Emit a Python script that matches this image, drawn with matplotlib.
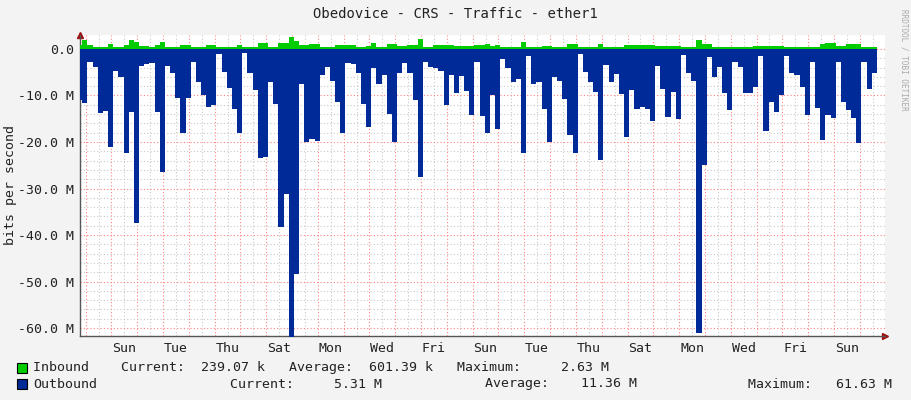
"""RRDtool-style traffic graph: Obedovice - CRS - ether1"""
import numpy as np
import matplotlib
matplotlib.use('Agg')
import matplotlib.pyplot as plt
from matplotlib.patches import Rectangle

# sample grid (days, step 0.2 day)
t_start = -0.331
t_step = 0.2

# outbound traffic, M bits/s (drawn negative)
outbound = [
    -11, -11.7, -2.9, -3.8, -13.8, -13.3, -21, -4.7, -6, -22.4,
    -13.5, -37.5, -3.6, -3.2, -3.1, -13.5, -26.4, -3.6, -5.1, -10.5,
    -18, -10.6, -2.9, -7.2, -9.9, -12.4, -12, -1.1, -4.9, -8.3,
    -12.8, -18, -0.9, -5.2, -8.8, -23.4, -23.2, -7, -11.8, -38.2,
    -31.2, -61.9, -48.4, -7.6, -19.9, -19.4, -19.8, -5.6, -3.8, -6.9,
    -11.3, -18.1, -3.1, -3.3, -5.1, -11.8, -16.7, -4.2, -7.6, -5.6,
    -14, -19.9, -5.2, -3.1, -5.2, -11, -27.5, -2.9, -3.8, -4.2,
    -4.7, -12, -5.6, -9.4, -5.8, -9, -14.2, -2.9, -14.4, -18.1,
    -9.9, -17.2, -2.2, -4, -7, -6.5, -22.3, -1.5, -7.6, -7,
    -12.9, -20.1, -6, -6.8, -10.8, -18.5, -22.3, -1.1, -4.9, -7,
    -9.2, -23.9, -3.4, -7, -5.4, -9.7, -18.9, -8.8, -12.9, -12.4,
    -12.9, -15.4, -3.6, -8.6, -14.6, -9.2, -15.1, -1.4, -5.2, -6.8,
    -61.1, -24.9, -1.7, -6, -3.8, -9.5, -13.1, -2.7, -3.8, -9.5,
    -9.5, -8.2, -1.6, -17.6, -11.3, -13.5, -9.8, -1.5, -5.1, -5.6,
    -8.1, -14.3, -2.8, -12.6, -19.6, -14.2, -14.8, -2.9, -11.3, -13.1,
    -14.8, -20.3, -2.9, -8.7, -5.2,
]

# inbound traffic, M bits/s
inbound = [
    0.9, 1.9, 0.9, 0.5, 0.5, 0.5, 1.0, 0.5, 0.5, 0.9,
    1.9, 1.4, 0.7, 0.7, 0.4, 0.9, 1.4, 0.4, 0.4, 0.4,
    0.9, 0.9, 0.4, 0.4, 0.4, 0.8, 0.8, 0.4, 0.4, 0.4,
    0.4, 0.9, 0.4, 0.4, 0.4, 1.2, 1.2, 0.5, 0.5, 1.2,
    1.2, 2.63, 1.8, 0.9, 0.9, 1.0, 1.0, 0.5, 0.5, 0.5,
    0.9, 0.9, 0.9, 0.9, 0.5, 0.5, 0.7, 1.2, 0.4, 0.4,
    1.0, 1.0, 0.65, 0.65, 0.9, 0.9, 2.2, 0.4, 0.4, 0.9,
    0.9, 0.9, 0.9, 0.6, 0.6, 0.6, 0.6, 0.9, 0.9, 1.1,
    0.65, 0.9, 0.4, 0.4, 0.4, 0.4, 1.4, 0.5, 0.5, 0.5,
    0.7, 0.7, 0.4, 0.4, 0.4, 1.1, 1.1, 0.5, 0.5, 0.5,
    0.5, 1.1, 0.5, 0.5, 0.5, 0.5, 0.9, 0.9, 0.9, 0.9,
    0.9, 0.9, 0.65, 0.65, 0.65, 0.65, 0.65, 0.5, 0.5, 0.5,
    1.9, 1.0, 1.0, 0.5, 0.5, 0.5, 0.5, 0.5, 0.5, 0.5,
    0.5, 0.65, 0.65, 0.65, 0.65, 0.65, 0.65, 0.5, 0.5, 0.5,
    0.5, 0.5, 0.5, 0.5, 1.0, 1.2, 1.2, 0.7, 0.7, 1.0,
    1.0, 1.0, 0.5, 0.5, 0.5,
]

day_labels = ['Sun', 'Tue', 'Thu', 'Sat', 'Mon', 'Wed', 'Fri', 'Sun',
              'Tue', 'Thu', 'Sat', 'Mon', 'Wed', 'Fri', 'Sun']
day_label_pos = np.arange(len(day_labels)) * 2 + 1.5

title = 'Obedovice - CRS - Traffic - ether1'
in_stats = ('Inbound    Current:  239.07 k   Average:  601.39 k   Maximum:     2.63 M')
out_stats = [('Outbound', 'Current:     5.31 M'), ('Average:    11.36 M'), ('Maximum:   61.63 M')]

mono = 'DejaVu Sans Mono'
plt.rcParams['font.family'] = mono

W, H = 911, 400
fig = plt.figure(figsize=(W / 100, H / 100), dpi=100, facecolor='#F3F3F3')
ax = fig.add_axes([80 / W, 1 - 336 / H, (885 - 80) / W, (336 - 35) / H])
ax.set_facecolor('white')

edges = t_start + t_step * np.arange(len(outbound) + 1)
out_y = np.append(outbound, outbound[-1])
in_y = np.append(inbound, inbound[-1])
ax.fill_between(edges, out_y, 0, step='post', color='#002A97', linewidth=0, zorder=3)
ax.fill_between(edges, in_y, 0, step='post', color='#00CC00', linewidth=0, zorder=3)

ax.set_xlim(-0.22, 30.98)
ax.set_ylim(-61.7, 3.0)

# grid
for d in np.arange(0, 31, 0.5):
    major = float(d).is_integer()
    ax.axvline(d, color='#FF8080' if major else '#C8C8C8', linestyle=(0, (1, 2)),
               linewidth=0.8, zorder=1)
for v in np.arange(-60, 1, 2):
    major = v % 10 == 0
    ax.axhline(v, color='#FF8080' if major else '#C8C8C8', linestyle=(0, (1, 2)),
               linewidth=0.8, zorder=1)

ax.set_yticks(np.arange(-60, 1, 10))
ax.set_yticklabels(['%.1f M' % v if v != 0 else '0.0' for v in np.arange(-60, 1, 10)],
                   fontsize=9.5, color='#222222')
ax.set_xticks(day_label_pos)
ax.set_xticklabels(day_labels, fontsize=9.5, color='#222222')
ax.tick_params(length=0, pad=4)
for s in ['top', 'right']:
    ax.spines[s].set_visible(False)
for s in ['left', 'bottom']:
    ax.spines[s].set_color('#555555')
    ax.spines[s].set_linewidth(1)
ax.plot(1, 0, '>', color='#A01010', markersize=4, transform=ax.transAxes, clip_on=False)
ax.plot(0, 1, '^', color='#A01010', markersize=4, transform=ax.transAxes, clip_on=False)

fig.text(455 / W, 1 - 14 / H, title, ha='center', va='center', fontsize=10, color='#222222')
fig.text(11 / W, 1 - 185 / H, 'bits per second', rotation=90, ha='center', va='center',
         fontsize=9.5, color='#222222')
fig.text(904 / W, 1 - 60 / H, 'RRDTOOL / TOBI OETIKER', rotation=270, ha='center', va='center',
         fontsize=5.5, color='#AAAAAA')

# legend
for y, col in [(368, '#00CC00'), (384, '#002A97')]:
    fig.patches.append(Rectangle((17 / W, 1 - (y + 5) / H), 10 / W, 10 / H,
                                 transform=fig.transFigure, facecolor=col,
                                 edgecolor='black', linewidth=0.8))
fig.text(33 / W, 1 - 368 / H, in_stats, va='center', fontsize=9.5, color='#222222')
fig.text(33 / W, 1 - 384 / H, out_stats[0][0], va='center', fontsize=9.5, color='#222222')
fig.text(230 / W, 1 - 384 / H, out_stats[0][1], va='center', fontsize=9.5, color='#222222')
fig.text(485 / W, 1 - 384 / H, out_stats[1], va='center', fontsize=9.5, color='#222222')
fig.text(748 / W, 1 - 384 / H, out_stats[2], va='center', fontsize=9.5, color='#222222')

fig.savefig('out.png', dpi=100, facecolor=fig.get_facecolor())
